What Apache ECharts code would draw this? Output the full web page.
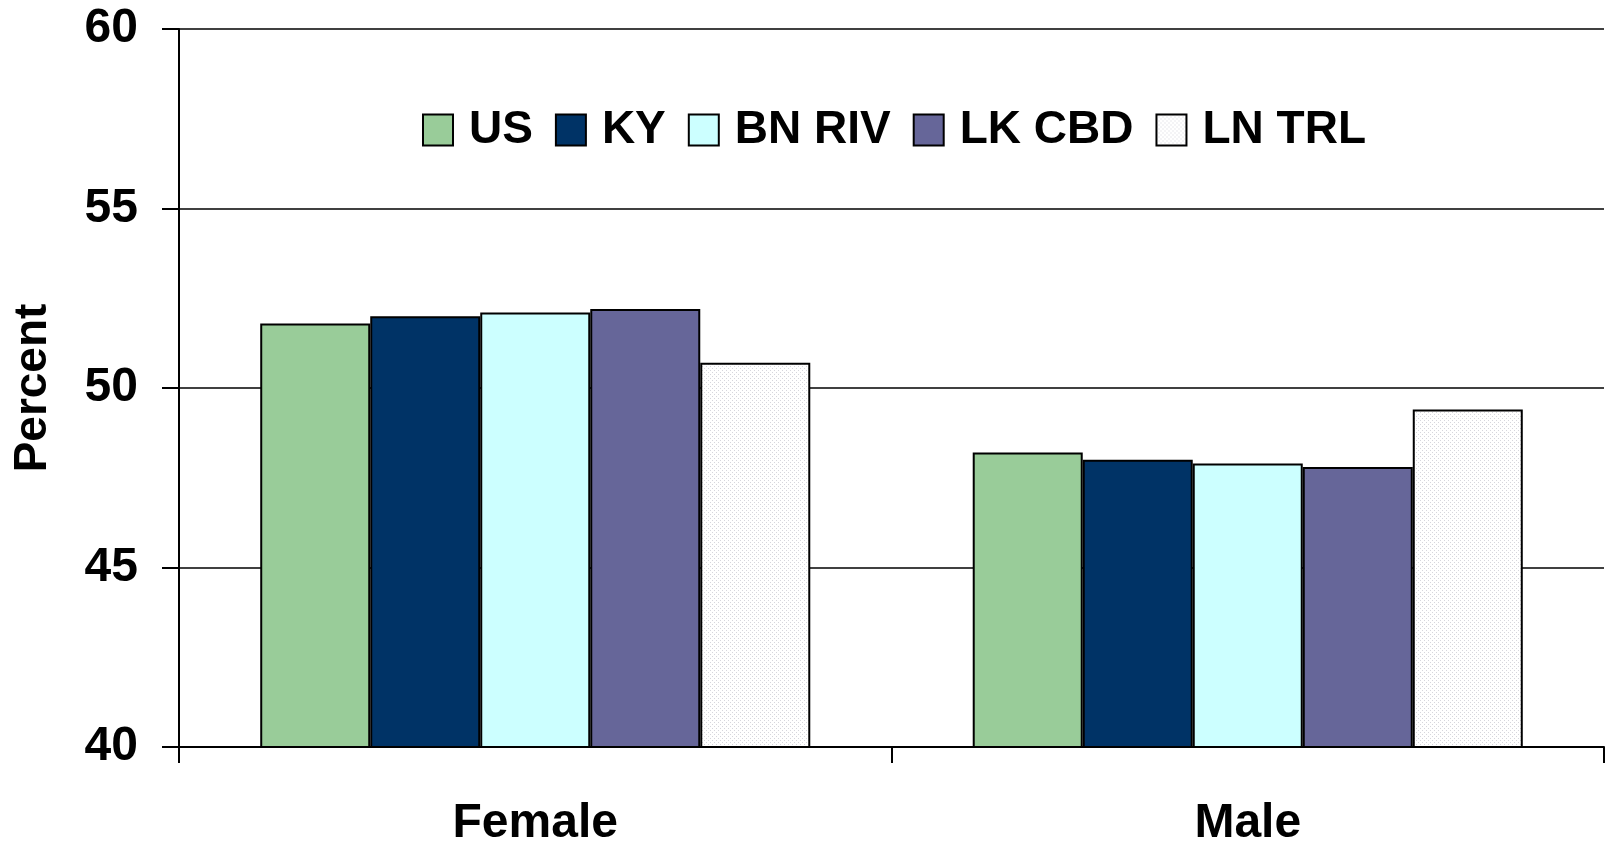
<!DOCTYPE html>
<html>
<head>
<meta charset="utf-8">
<script src="https://cdn.jsdelivr.net/npm/echarts@6/dist/echarts.min.js"></script>
<style>
html, body { margin: 0; padding: 0; background: #fff; }
#chart { width: 1607px; height: 842px; }
</style>
</head>
<body>
<div id="chart"></div>
<script>
const categories = ['Female', 'Male'];
const seriesNames = ['US', 'KY', 'BN RIV', 'LK CBD', 'LN TRL'];
const usValues = [51.8, 48.2];
const kyValues = [52.0, 48.0];
const bnRivValues = [52.1, 47.9];
const lkCbdValues = [52.2, 47.8];
const lnTrlValues = [50.7, 49.4];
const yTicks = [40, 45, 50, 55, 60];

// dotted fill for LN TRL
function dotPattern() {
    const c = document.createElement('canvas');
    c.width = 4;
    c.height = 4;
    const ctx = c.getContext('2d');
    ctx.fillStyle = '#ffffff';
    ctx.fillRect(0, 0, 4, 4);
    ctx.fillStyle = '#d6d6dc';
    ctx.fillRect(0, 0, 1, 1);
    ctx.fillRect(2, 2, 1, 1);
    return { image: c, repeat: 'repeat' };
}

const colors = ['#99CC99', '#003366', '#CCFFFF', '#666699', dotPattern()];
const allValues = [usValues, kyValues, bnRivValues, lkCbdValues, lnTrlValues];

var myChart = echarts.init(document.getElementById('chart'));

const font = '"Liberation Sans", Arial, sans-serif';

const option = {
    backgroundColor: '#FFF',
    animation: false,
    legend: {
        left: 417,
        top: 102,
        itemWidth: 30,
        itemHeight: 31,
        itemGap: 22,
        icon: 'rect',
        textStyle: {
            fontFamily: font,
            fontWeight: 'bold',
            fontSize: 46,
            color: '#000',
            padding: [0, 0, 0, 11]
        },
        data: seriesNames
    },
    grid: {
        left: 179,
        right: 3,
        top: 29,
        bottom: 95,
        outerBoundsMode: 'none'
    },
    xAxis: {
        type: 'category',
        data: categories,
        axisLine: { show: true, lineStyle: { color: '#000', width: 2 } },
        axisTick: { show: true, length: 16, lineStyle: { color: '#000', width: 2 } },
        axisLabel: {
            margin: 53,
            fontFamily: font,
            fontWeight: 'bold',
            fontSize: 48,
            color: '#000'
        }
    },
    yAxis: {
        type: 'value',
        min: yTicks[0],
        max: yTicks[yTicks.length - 1],
        interval: 5,
        name: 'Percent',
        nameLocation: 'middle',
        nameGap: 123,
        nameRotate: 90,
        nameTextStyle: {
            fontFamily: font,
            fontWeight: 'bold',
            fontSize: 46,
            color: '#000'
        },
        axisLine: { show: true, lineStyle: { color: '#000', width: 2 } },
        axisTick: { show: true, length: 17, lineStyle: { color: '#000', width: 2 } },
        splitLine: { show: true, lineStyle: { color: '#000', width: 1.5 } },
        axisLabel: {
            margin: 41,
            fontFamily: font,
            fontWeight: 'bold',
            fontSize: 48,
            color: '#000'
        }
    },
    series: seriesNames.map(function (name, i) {
        return {
            name: name,
            type: 'bar',
            barGap: '0%',
            barCategoryGap: '22.8%',
            itemStyle: {
                color: colors[i],
                borderColor: '#000',
                borderWidth: 2
            },
            data: allValues[i]
        };
    })
};

option && myChart.setOption(option);

window.addEventListener("resize", function () {
    myChart.resize();
});
</script>
</body>
</html>
